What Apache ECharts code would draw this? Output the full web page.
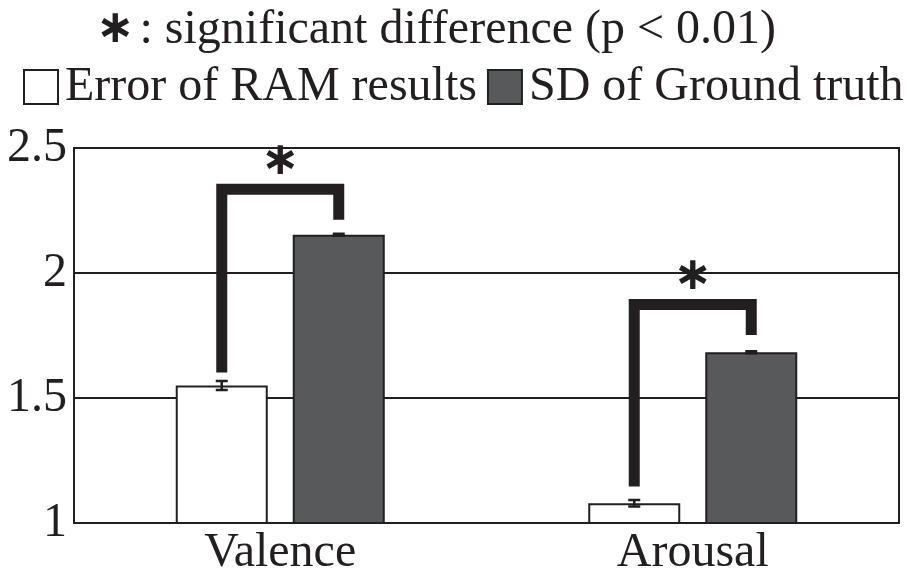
<!DOCTYPE html>
<html><head><meta charset="utf-8">
<script src="https://cdn.jsdelivr.net/npm/echarts@6/dist/echarts.min.js"></script>
<style>html,body{margin:0;padding:0;background:#fff}#c{width:923px;height:577px}</style>
</head><body><div id="c"></div>
<script>
const categories = ['Valence', 'Arousal'];
const ramError = [1.55, 1.079];
const ramErrorSE = [0.018, 0.013];
const sdTruth = [2.153, 1.683];
const sdTruthSE = [0.004, 0.004];
const bracketTop = [2.335, 1.874];
const bracketLeftEnd = [1.602, 1.146];
const bracketRightEnd = [2.213, 1.752];
const yTicks = [1, 1.5, 2, 2.5];

const INK = '#231f20';
const DARK = '#58595b';
const FONT = 'Liberation Serif';
const FS = 48;
const BAR_W = 92, BAR_GAP_PX = 25;
const HALF = (BAR_W + BAR_GAP_PX) / 2;

const chart = echarts.init(document.getElementById('c'));

const errData = [];
categories.forEach((c, i) => {
  errData.push([i, ramError[i] - ramErrorSE[i], ramError[i] + ramErrorSE[i], -1]);
  errData.push([i, sdTruth[i] - sdTruthSE[i], sdTruth[i] + sdTruthSE[i], 1]);
});
const brData = categories.map((c, i) => [i, bracketTop[i], bracketLeftEnd[i], bracketRightEnd[i]]);

chart.setOption({
  animation: false,
  title: {
    text: '{a|∗}{b| }: significant difference (p < 0.01)',
    left: 431, top: 1, textAlign: 'center',
    textStyle: {
      fontFamily: FONT, fontSize: FS, fontWeight: 'normal', color: INK,
      rich: {
        a: { fontFamily: 'DejaVu Sans', fontSize: 46, fontWeight: 'bold', color: INK },
        b: { fontFamily: FONT, fontSize: 20, color: INK }
      }
    }
  },
  legend: {
    left: 23, top: 63, width: 920, padding: 0, itemWidth: 34, itemHeight: 34, itemGap: 10,
    textStyle: { fontFamily: FONT, fontSize: FS, color: INK, padding: [0, 0, 0, 2] },
    data: [
      { name: 'Error of RAM results', icon: 'rect', itemStyle: { color: '#fff', borderColor: INK, borderWidth: 2 } },
      { name: 'SD of Ground truth', icon: 'rect', itemStyle: { color: DARK, borderColor: INK, borderWidth: 2 } }
    ]
  },
  grid: { left: 74, right: 24, top: 148, bottom: 49, show: true, borderColor: INK, borderWidth: 2, backgroundColor: 'transparent' },
  xAxis: {
    type: 'category', data: categories,
    axisTick: { show: false }, axisLine: { show: false },
    axisLabel: { fontFamily: FONT, fontSize: FS, color: INK, margin: 6 }
  },
  yAxis: {
    type: 'value', min: 1, max: 2.5, interval: 0.5,
    axisLine: { show: false }, axisTick: { show: false },
    axisLabel: { fontFamily: FONT, fontSize: FS, color: INK, margin: 7, formatter: v => String(v) },
    splitLine: { show: true, lineStyle: { color: INK, width: 2 } }
  },
  series: [
    { name: 'Error of RAM results', type: 'bar', data: ramError, barWidth: BAR_W, barGap: (BAR_GAP_PX / BAR_W * 100) + '%',
      itemStyle: { color: '#fff', borderColor: INK, borderWidth: 2 }, z: 2 },
    { name: 'SD of Ground truth', type: 'bar', data: sdTruth, barWidth: BAR_W,
      itemStyle: { color: DARK, borderColor: INK, borderWidth: 2 }, z: 2 },
    { type: 'custom', data: errData, z: 5, encode: { x: 0, y: [1, 2] },
      renderItem: (params, api) => {
        const side = api.value(3);
        const lo = api.coord([api.value(0), api.value(1)]);
        const hi = api.coord([api.value(0), api.value(2)]);
        const x = lo[0] + side * HALF;
        const w = 6;
        const st = { stroke: INK, lineWidth: 2.5, fill: null };
        return { type: 'group', children: [
          { type: 'line', shape: { x1: x, y1: lo[1], x2: x, y2: hi[1] }, style: st },
          { type: 'line', shape: { x1: x - w, y1: lo[1], x2: x + w, y2: lo[1] }, style: st },
          { type: 'line', shape: { x1: x - w, y1: hi[1], x2: x + w, y2: hi[1] }, style: st }
        ]};
      } },
    { type: 'custom', data: brData, z: 6, encode: { x: 0, y: [1, 2, 3] },
      renderItem: (params, api) => {
        const ci = api.value(0);
        const top = api.coord([ci, api.value(1)]);
        const l = api.coord([ci, api.value(2)]);
        const r = api.coord([ci, api.value(3)]);
        const xl = top[0] - HALF, xr = top[0] + HALF;
        return { type: 'group', children: [
          { type: 'polyline', shape: { points: [[xl, l[1]], [xl, top[1]], [xr, top[1]], [xr, r[1]]] },
            style: { stroke: INK, lineWidth: 11, fill: null, lineJoin: 'miter', lineCap: 'butt' } },
          { type: 'text', style: { text: '∗', x: top[0], y: top[1] - 4, textAlign: 'center', textVerticalAlign: 'bottom',
            fontFamily: 'DejaVu Sans', fontSize: 46, fontWeight: 'bold', fill: INK } }
        ]};
      } }
  ]
});
</script></body></html>
